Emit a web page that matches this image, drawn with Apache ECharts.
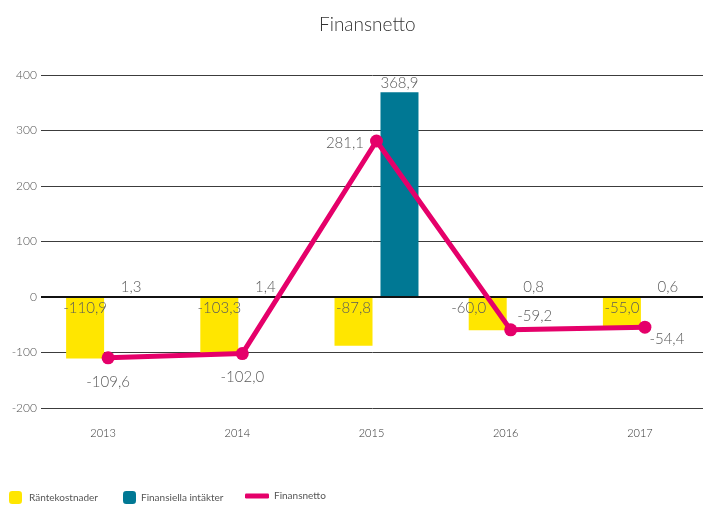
<!DOCTYPE html>
<html><head><meta charset="utf-8">
<script src="https://cdn.jsdelivr.net/npm/echarts@6/dist/echarts.min.js"></script>
<style>html,body{margin:0;padding:0;background:#fff}#c{width:703px;height:505px}</style>
</head><body><div id="c"></div>
<script>
const categories = ['2013', '2014', '2015', '2016', '2017'];
const rantekostnader = [-110.9, -103.3, -87.8, -60.0, -55.0];
const finansiellaIntakter = [1.3, 1.4, 368.9, 0.8, 0.6];
const finansnetto = [-109.6, -102.0, 281.1, -59.2, -54.4];
const yTicks = [-200, -100, 0, 100, 200, 300, 400];

const fmt = v => v.toFixed(1).replace('.', ',');
const FONT = 'Lato';
const lblColor = '#5a5a5a';

const chart = echarts.init(document.getElementById('c'), null, {renderer: 'canvas'});

const lineLabelPos = [
  {position: 'bottom', distance: 10},
  {position: 'bottom', distance: 10},
  {position: 'left', distance: 6, offset: [0, 2]},
  {position: 'right', distance: 0, offset: [0, -14]},
  {position: 'right', distance: -2, offset: [0, 12]}
];

chart.setOption({
  animation: false,
  backgroundColor: '#fff',
  title: {
    text: 'Finansnetto', left: 314, top: 10,
    textStyle: {fontFamily: FONT, fontWeight: 300, fontSize: 19, color: '#333'}
  },
  legend: [
    {data: ['Räntekostnader'], left: 4, top: 486, itemWidth: 13, itemHeight: 13, itemGap: 8,
     textStyle: {fontFamily: FONT, fontSize: 10, color: '#555', padding: [0, 0, 0, 2]}},
    {data: ['Finansiella intäkter'], left: 118, top: 486, itemWidth: 13, itemHeight: 13,
     textStyle: {fontFamily: FONT, fontSize: 10, color: '#555'}},
    {data: [{name: 'Finansnetto', icon: 'roundRect'}], left: 240, top: 486, itemWidth: 24, itemHeight: 5,
     textStyle: {fontFamily: FONT, fontSize: 10, color: '#555'}}
  ],
  grid: {left: 41, width: 671, top: 75, bottom: 97, outerBoundsMode: 'none'},
  xAxis: {
    type: 'category', data: categories,
    axisLine: {show: false, onZero: false},
    axisTick: {show: false},
    axisLabel: {margin: 20, color: '#333', fontFamily: FONT, fontSize: 11, fontWeight: 300,
      padding: [0, 10, 0, 0]}
  },
  yAxis: {
    type: 'value', min: yTicks[0], max: yTicks[yTicks.length - 1], interval: 100,
    axisLine: {show: false}, axisTick: {show: false},
    axisLabel: {margin: 4, color: '#555', fontFamily: FONT, fontSize: 12, fontWeight: 300},
    splitLine: {lineStyle: {color: '#3c3c3c', width: 1}}
  },
  series: [
    {
      name: 'Räntekostnader', type: 'bar', data: rantekostnader.map((v, i) => ({
        value: v,
        label: i === 3 ? {offset: [-19, 0]} : {}
      })),
      barWidth: 38, barGap: '21%',
      itemStyle: {color: '#FFE600'},
      label: {show: true, position: 'insideTop', distance: 4, formatter: p => fmt(p.value),
        color: lblColor, fontFamily: FONT, fontSize: 15, fontWeight: 300},
      markLine: {
        silent: true, symbol: 'none', label: {show: false},
        lineStyle: {color: '#111', width: 2, type: 'solid'},
        data: [{yAxis: 0}]
      },
      z: 2
    },
    {
      name: 'Finansiella intäkter', type: 'bar', data: finansiellaIntakter,
      barWidth: 38,
      itemStyle: {color: '#007894'},
      label: {show: true, position: 'top', distance: 2, formatter: p => fmt(p.value),
        color: lblColor, fontFamily: FONT, fontSize: 15, fontWeight: 300},
      z: 2
    },
    {
      name: 'Finansnetto', type: 'line', data: finansnetto.map((v, i) => ({
        value: v, label: lineLabelPos[i]
      })),
      itemStyle: {color: '#E5006A'},
      lineStyle: {color: '#E5006A', width: 5},
      symbol: 'circle', symbolSize: 13,
      label: {show: true, formatter: p => fmt(p.value),
        color: lblColor, fontFamily: FONT, fontSize: 15, fontWeight: 300},
      z: 5
    }
  ]
});
</script></body></html>
